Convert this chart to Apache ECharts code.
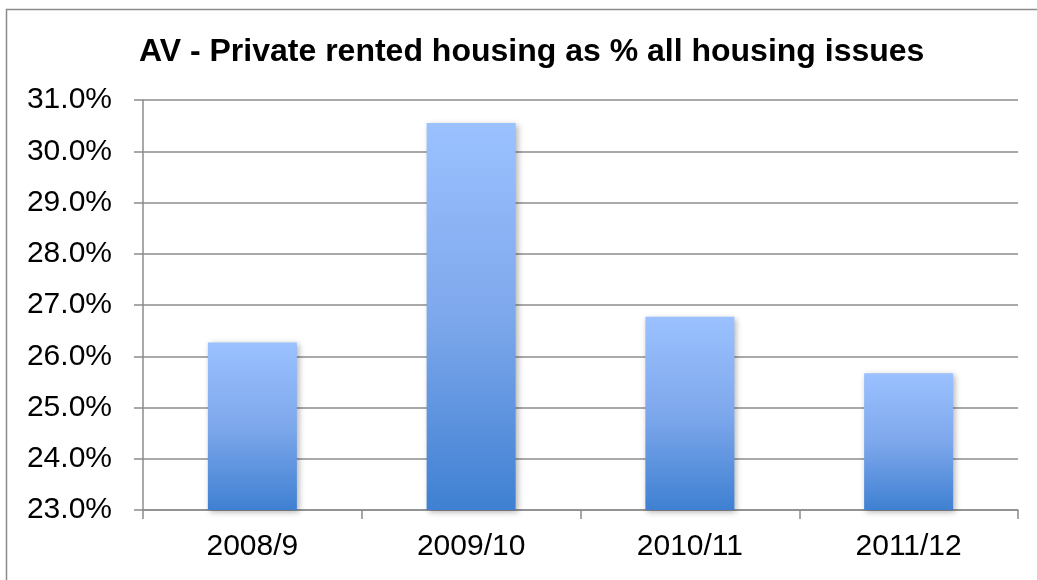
<!DOCTYPE html>
<html>
<head>
<meta charset="utf-8">
<style>
  html, body { margin: 0; padding: 0; background: #ffffff; }
  #chart { width: 1037px; height: 580px; }
</style>
<script src="https://cdn.jsdelivr.net/npm/echarts@6/dist/echarts.min.js"></script>
</head>
<body>
<div id="chart"></div>
<script>
// Financial years on the category axis
const years = ['2008/9', '2009/10', '2010/11', '2011/12'];
// Private rented housing share of all housing issues (%)
const shares = [26.27, 30.55, 26.77, 25.67];

const chart = echarts.init(document.getElementById('chart'), null, { renderer: 'canvas' });

const gridGray = '#8c8c8c';
const font = 'Liberation Sans, Arial, sans-serif';

chart.setOption({
  animation: false,
  backgroundColor: '#ffffff',
  graphic: [{
    type: 'rect',
    left: 4, top: 7,
    shape: { width: 1060, height: 600 },
    style: { fill: 'none', stroke: '#8a8a8a', lineWidth: 1.5 }
  }],
  title: {
    text: 'AV - Private rented housing as % all housing issues',
    left: 134,
    top: 31,
    textStyle: {
      fontFamily: font,
      fontWeight: 'bold',
      fontSize: 32,
      color: '#000000'
    }
  },
  grid: { left: 143, right: 19, top: 100, bottom: 70, containLabel: false },
  xAxis: {
    type: 'category',
    data: years,
    axisLine: { show: true, lineStyle: { color: gridGray, width: 1.5 } },
    axisTick: { show: true, length: 9, alignWithLabel: false, lineStyle: { color: gridGray, width: 1.5 } },
    axisLabel: {
      fontFamily: font,
      fontSize: 30,
      color: '#000000',
      margin: 22
    },
    splitLine: { show: false }
  },
  yAxis: {
    type: 'value',
    min: 23,
    max: 31,
    interval: 1,
    axisLine: { show: true, lineStyle: { color: gridGray, width: 1.5 } },
    axisTick: { show: true, length: 9, lineStyle: { color: gridGray, width: 1.5 } },
    axisLabel: {
      fontFamily: font,
      fontSize: 30,
      color: '#000000',
      margin: 31,
      formatter: v => v.toFixed(1) + '%'
    },
    splitLine: { show: true, lineStyle: { color: gridGray, width: 1.5 } }
  },
  series: [{
    type: 'bar',
    data: shares,
    barWidth: 89,
    itemStyle: {
      color: new echarts.graphic.LinearGradient(0, 0, 0, 1, [
        { offset: 0, color: '#9bc1ff' },
        { offset: 0.5, color: '#7ea8ec' },
        { offset: 1, color: '#3f80d2' }
      ]),
      shadowColor: 'rgba(0,0,0,0.3)',
      shadowBlur: 6,
      shadowOffsetX: 2,
      shadowOffsetY: 2
    }
  }]
});
</script>
</body>
</html>
